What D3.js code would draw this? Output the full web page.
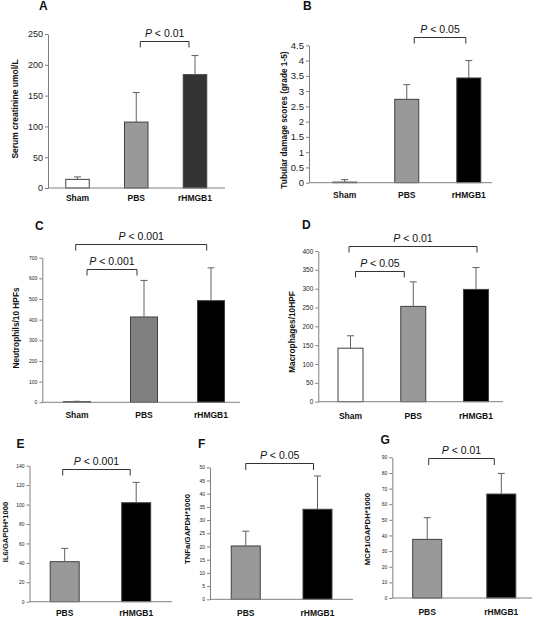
<!DOCTYPE html>
<html><head><meta charset="utf-8">
<script src="https://cdn.jsdelivr.net/npm/d3@7"></script>
<style>
html,body{margin:0;padding:0;background:#fff;}
svg{display:block;font-family:"Liberation Sans",Arial,sans-serif;}
</style></head>
<body>
<svg id="chart" width="539" height="618"></svg>
<script>
// ---------------- DATA ----------------
const catsA = ["Sham", "PBS", "rHMGB1"];
const meanA = [14, 107, 184];
const errA  = [4, 48, 31];
const ticksA = [0, 50, 100, 150, 200, 250];

const catsB = ["Sham", "PBS", "rHMGB1"];
const meanB = [0.02, 2.73, 3.43];
const errB  = [0.08, 0.48, 0.57];
const ticksB = [0, 0.5, 1, 1.5, 2, 2.5, 3, 3.5, 4, 4.5];

const catsC = ["Sham", "PBS", "rHMGB1"];
const meanC = [3, 413, 492];
const errC  = [2, 177, 159];
const ticksC = [0, 100, 200, 300, 400, 500, 600, 700];

const catsD = ["Sham", "PBS", "rHMGB1"];
const meanD = [142, 253, 298];
const errD  = [33, 65, 58];
const ticksD = [0, 50, 100, 150, 200, 250, 300, 350, 400];

const catsE = ["PBS", "rHMGB1"];
const meanE = [41.2, 101.9];
const errE  = [13.7, 20.9];
const ticksE = [0, 20, 40, 60, 80, 100, 120, 140];

const catsF = ["PBS", "rHMGB1"];
const meanF = [20.2, 34.1];
const errF  = [5.6, 12.6];
const ticksF = [0, 5, 10, 15, 20, 25, 30, 35, 40, 45, 50];

const catsG = ["PBS", "rHMGB1"];
const meanG = [37.5, 66.5];
const errG  = [13.9, 13.2];
const ticksG = [0, 10, 20, 30, 40, 50, 60, 70, 80, 90];

// significance brackets: [from, to, label, level (y units)]
const sigA = [["PBS", "rHMGB1", "0.01", 238.6]];
const sigB = [["PBS", "rHMGB1", "0.05", 4.77]];
const sigC = [["Sham", "rHMGB1", "0.001", 765], ["Sham", "PBS", "0.001", 645]];
const sigD = [["Sham", "rHMGB1", "0.01", 414], ["Sham", "PBS", "0.05", 347]];
const sigE = [["PBS", "rHMGB1", "0.001", 136.3]];
const sigF = [["PBS", "rHMGB1", "0.05", 51.7]];
const sigG = [["PBS", "rHMGB1", "0.01", 89.4]];

const titles = ["Serum creatinine umol/L", "Tubular damage scores (grade 1-5)",
  "Neutrophils/10 HPFs", "Macrophages/10HPF", "IL6/GAPDH*1000",
  "TNFa/GAPDH*1000", "MCP1/GAPDH*1000"];
const letters = ["A", "B", "C", "D", "E", "F", "G"];

// ---------------- LAYOUT / STYLE ----------------
const fills = {
  A: {"Sham": "#ffffff", "PBS": "#999999", "rHMGB1": "#333333"},
  B: {"Sham": "#ffffff", "PBS": "#999999", "rHMGB1": "#000000"},
  C: {"Sham": "#ffffff", "PBS": "#808080", "rHMGB1": "#000000"},
  D: {"Sham": "#ffffff", "PBS": "#999999", "rHMGB1": "#000000"},
  E: {"PBS": "#999999", "rHMGB1": "#000000"},
  F: {"PBS": "#999999", "rHMGB1": "#000000"},
  G: {"PBS": "#999999", "rHMGB1": "#000000"}
};

const panels = [
  {id:"A", cats:catsA, mean:meanA, err:errA, ticks:ticksA, sig:sigA,
   ax:48, xEnd:225, c:[77.5,195], yr:[188,34], bw:23.5, tf:9, catY:201, catF:8.5,
   title:{x:15, y:109, f:8.5}, letter:{x:39, y:9.5},
   bOff:[[4,-6]], tick:6},
  {id:"B", cats:catsB, mean:meanB, err:errB, ticks:ticksB, sig:sigB,
   ax:309, xEnd:492, c:[344.7,468.8], yr:[182.7,45.3], bw:24, tf:9.5, catY:198, catF:8.5,
   title:{x:284, y:120, f:8.3}, letter:{x:303, y:10},
   bOff:[[7.5,-3]], tick:6},
  {id:"C", cats:catsC, mean:meanC, err:errC, ticks:ticksC, sig:sigC,
   ax:42.3, xEnd:240, c:[77,211], yr:[402.3,257.7], bw:27, tf:5, catY:418, catF:8.5,
   title:{x:16, y:328, f:8.3}, letter:{x:35, y:230},
   bOff:[[-1.3,-4.3],[10,-7]], tick:6},
  {id:"D", cats:catsD, mean:meanD, err:errD, ticks:ticksD, sig:sigD,
   ax:318.3, xEnd:503, c:[350.5,476], yr:[401.7,251], bw:25, tf:6.5, catY:419, catF:8.5,
   title:{x:291.5, y:332, f:8.3}, letter:{x:302, y:229.3},
   bOff:[[-1.5,1],[5,-9]], tick:6},
  {id:"E", cats:catsE, mean:meanE, err:errE, ticks:ticksE, sig:sigE,
   ax:29.5, xEnd:172, c:[64.7,136.2], yr:[601.7,465.7], bw:29, tf:5, catY:616, catF:8.5,
   title:{x:5, y:532, f:7.6}, letter:{x:16.5, y:448},
   bOff:[[-2,-6]], tick:6},
  {id:"F", cats:catsF, mean:meanF, err:errF, ticks:ticksF, sig:sigF,
   ax:210, xEnd:353, c:[245.75,317.5], yr:[599.3,467.3], bw:29, tf:5, catY:616, catF:8.5,
   title:{x:187, y:529, f:7.8}, letter:{x:198, y:448},
   bOff:[[0,-4]], tick:6.5},
  {id:"G", cats:catsG, mean:meanG, err:errG, ticks:ticksG, sig:sigG,
   ax:392.3, xEnd:532, c:[427.2,501.3], yr:[598,457.3], bw:29, tf:5, catY:615, catF:8.5,
   title:{x:367.5, y:529, f:7.8}, letter:{x:380.5, y:444},
   bOff:[[1.5,-7]], tick:6.5}
];

const svg = d3.select("#chart");
const axisColor = "#808080";

panels.forEach((p, i) => {
  const g = svg.append("g");
  const y = d3.scaleLinear().domain([0, p.ticks[p.ticks.length - 1]]).range(p.yr);
  const x = d3.scalePoint().domain(p.cats).range(p.c);

  // y axis
  const yAxis = d3.axisLeft(y).tickValues(p.ticks).tickSize(3).tickSizeOuter(0).tickPadding(2)
    .tickFormat(d => String(d));
  const ya = g.append("g").attr("transform", `translate(${p.ax},0)`).call(yAxis);
  ya.select(".domain").attr("stroke", axisColor).attr("stroke-width", 1);
  ya.selectAll(".tick line").attr("stroke", axisColor);
  ya.selectAll(".tick text").attr("fill", "#222").style("font-size", p.tf + "px")
    .style("font-family", "'Liberation Sans', Arial, sans-serif");

  // bars
  const data = p.cats.map((c, k) => ({c, v: p.mean[k], e: p.err[k]}));
  g.selectAll("rect.bar").data(data).enter().append("rect")
    .attr("class", "bar")
    .attr("x", d => x(d.c) - p.bw / 2)
    .attr("y", d => y(d.v))
    .attr("width", p.bw)
    .attr("height", d => y(0) - y(d.v))
    .attr("fill", d => fills[p.id][d.c])
    .attr("stroke", "#404040").attr("stroke-width", 1);

  // error bars (upper only)
  const eb = g.selectAll("g.err").data(data).enter().append("g").attr("class", "err");
  eb.append("line")
    .attr("x1", d => x(d.c)).attr("x2", d => x(d.c))
    .attr("y1", d => y(d.v)).attr("y2", d => y(d.v + d.e))
    .attr("stroke", "#606060").attr("stroke-width", 1);
  eb.append("line")
    .attr("x1", d => x(d.c) - 3.5).attr("x2", d => x(d.c) + 3.5)
    .attr("y1", d => y(d.v + d.e)).attr("y2", d => y(d.v + d.e))
    .attr("stroke", "#606060").attr("stroke-width", 1);

  // x axis line
  g.append("line").attr("x1", p.ax).attr("x2", p.xEnd)
    .attr("y1", y(0)).attr("y2", y(0))
    .attr("stroke", axisColor).attr("stroke-width", 1);

  // category labels
  g.selectAll("text.cat").data(p.cats).enter().append("text")
    .attr("class", "cat")
    .attr("x", d => x(d)).attr("y", p.catY)
    .attr("text-anchor", "middle")
    .style("font-size", p.catF + "px").style("font-weight", "bold")
    .attr("fill", "#111")
    .text(d => d);

  // brackets
  p.sig.forEach((s, k) => {
    const x0 = x(s[0]) + p.bOff[k][0];
    const x1 = x(s[1]) + p.bOff[k][1];
    const yy = Math.round(y(s[3])) + 0.5;
    g.append("path")
      .attr("d", `M${x0},${yy + p.tick}V${yy}H${x1}V${yy + p.tick}`)
      .attr("fill", "none").attr("stroke", "#333").attr("stroke-width", 1);
    const t = g.append("text")
      .attr("x", (x0 + x1) / 2).attr("y", yy - 4.5)
      .attr("text-anchor", "middle")
      .style("font-size", "10.5px").attr("fill", "#111");
    t.append("tspan").style("font-style", "italic").text("P");
    t.append("tspan").text(" < " + s[2]);
  });

  // y title
  g.append("text")
    .attr("transform", `translate(${p.title.x},${p.title.y}) rotate(-90)`)
    .attr("text-anchor", "middle").attr("dominant-baseline", "central")
    .style("font-size", p.title.f + "px").style("font-weight", "bold")
    .attr("fill", "#111")
    .text(titles[i]);

  // panel letter
  g.append("text")
    .attr("x", p.letter.x).attr("y", p.letter.y)
    .style("font-size", "12px").style("font-weight", "bold")
    .attr("fill", "#111")
    .text(letters[i]);
});
</script>
</body></html>
